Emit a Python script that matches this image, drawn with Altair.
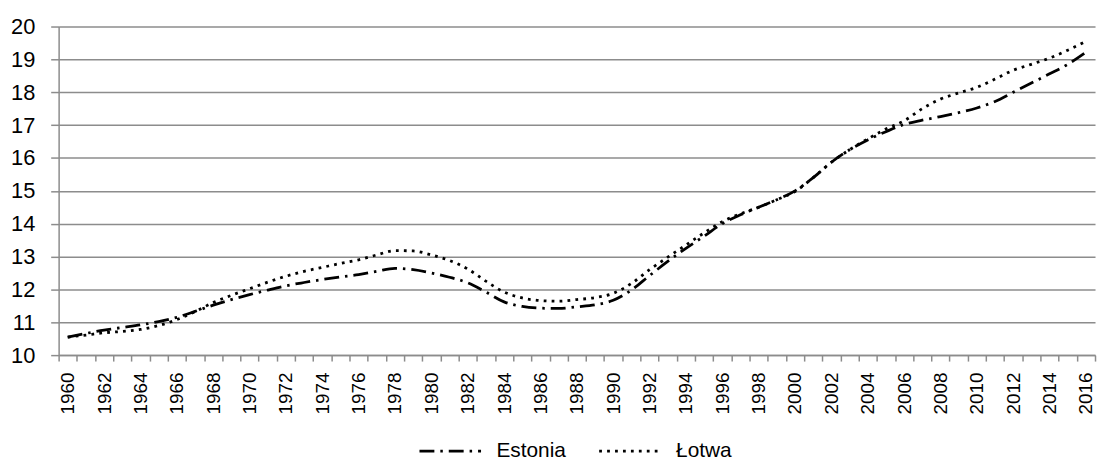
import altair as alt
import pandas as pd

years = list(range(1960, 2017))

estonia = [10.55, 10.66, 10.76, 10.84, 10.92, 11.02, 11.15, 11.33, 11.52, 11.69,
           11.84, 11.98, 12.11, 12.21, 12.30, 12.38, 12.45, 12.55, 12.64, 12.60,
           12.50, 12.37, 12.20, 11.92, 11.62, 11.48, 11.43, 11.42, 11.47, 11.53,
           11.67, 11.98, 12.42, 12.85, 13.25, 13.62, 14.00, 14.27, 14.50, 14.73,
           15.00, 15.40, 15.87, 16.25, 16.55, 16.80, 17.02, 17.15, 17.26, 17.38,
           17.52, 17.72, 18.00, 18.28, 18.56, 18.85, 19.22]

lotwa = [10.55, 10.61, 10.68, 10.72, 10.78, 10.90, 11.08, 11.32, 11.60, 11.82,
         12.02, 12.22, 12.40, 12.55, 12.67, 12.79, 12.90, 13.05, 13.18, 13.17,
         13.05, 12.88, 12.62, 12.25, 11.92, 11.74, 11.66, 11.64, 11.69, 11.75,
         11.88, 12.18, 12.60, 12.98, 13.35, 13.72, 14.06, 14.30, 14.50, 14.73,
         14.98, 15.40, 15.87, 16.25, 16.58, 16.88, 17.13, 17.50, 17.79, 17.98,
         18.15, 18.40, 18.67, 18.85, 19.04, 19.28, 19.55]

series_names = ["Estonia", "Łotwa"]
y_ticks = list(range(10, 21))

rows = []
for name, vals in zip(series_names, [estonia, lotwa]):
    for yr, v in zip(years, vals):
        rows.append({"year": yr, "value": v, "country": name})
df = pd.DataFrame(rows)

FONT = "Liberation Sans"
GRAY = "#8c8c8c"

chart = alt.Chart(df).mark_line(
    color="black", strokeWidth=2.8, interpolate="monotone", strokeCap="butt"
).encode(
    x=alt.X(
        "year:O",
        bandPosition=0.5,
        scale=alt.Scale(type="band", paddingInner=0, paddingOuter=0, domain=years),
        axis=alt.Axis(
            title=None,
            tickBand="extent",
            tickSize=6,
            tickColor=GRAY,
            tickWidth=1.5,
            domainColor=GRAY,
            domainWidth=1.5,
            grid=False,
            labelAngle=270,
            labelPadding=11,
            labelFontSize=19,
            labelFont=FONT,
            labelColor="black",
            labelOverlap=False,
            labelExpr="datum.value % 2 == 0 ? datum.label : ''",
        ),
    ),
    y=alt.Y(
        "value:Q",
        scale=alt.Scale(domain=[10, 20], nice=False, zero=False),
        axis=alt.Axis(
            title=None,
            values=y_ticks,
            tickSize=8,
            tickColor=GRAY,
            tickWidth=1.5,
            domainColor=GRAY,
            domainWidth=1.5,
            gridColor=GRAY,
            gridWidth=1.5,
            labelPadding=16,
            labelFontSize=22,
            labelFont=FONT,
            labelColor="black",
        ),
    ),
    strokeDash=alt.StrokeDash(
        "country:N",
        scale=alt.Scale(domain=series_names, range=[[15, 6, 2.5, 6], [2.8, 5.2]]),
        legend=alt.Legend(
            title=None,
            orient="none",
            direction="horizontal",
            legendX=362,
            legendY=395,
            symbolType="stroke",
            symbolSize=3844,
            symbolStrokeWidth=2.8,
            symbolStrokeColor="black",
            labelFontSize=21,
            labelFont=FONT,
            labelColor="black",
            labelOffset=14,
            columnPadding=26,
        ),
    ),
).properties(
    width=1044,
    height=331,
    autosize=alt.AutoSizeParams(type="none"),
    padding={"left": 51, "top": 17, "right": 3, "bottom": 106},
).configure_view(stroke=None)

chart.save("out.html", embed_options={"renderer": "svg", "actions": False})
